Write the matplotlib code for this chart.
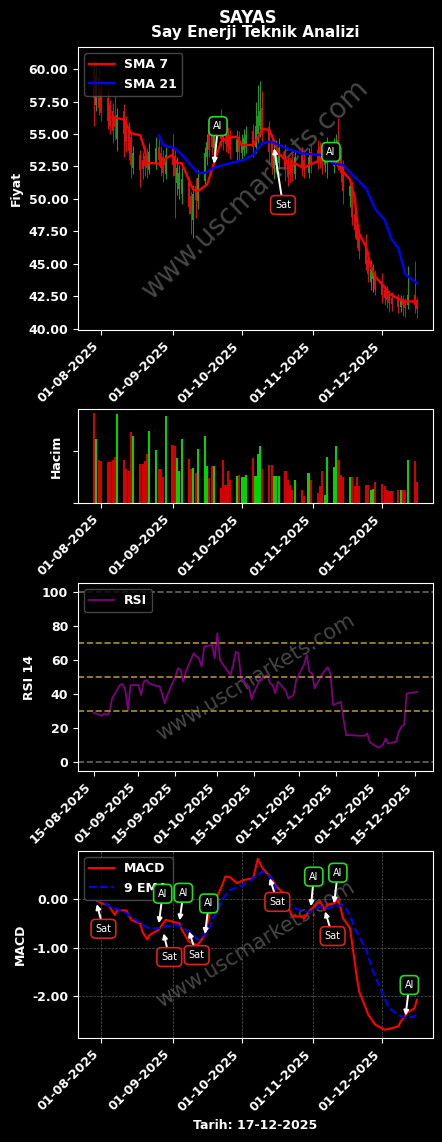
import matplotlib
matplotlib.use("Agg")
import matplotlib.pyplot as plt
import matplotlib.dates as mdates
import matplotlib.ticker as mticker
import pandas as pd

plt.rcParams["font.family"] = ["DejaVu Sans"]
plt.rcParams["font.weight"] = "bold"
plt.rcParams["axes.labelweight"] = "bold"

# islem gunleri (29 Ekim tatil)
days = pd.bdate_range("2025-07-29", "2025-12-16")
days = days[days != pd.Timestamp("2025-10-29")]

opens = [60.0, 57.2, 59.4, 58.5, 57.8, 57.2, 56.8, 56.3, 54.6, 56.8,
         55.8, 55.4, 54.8, 52.4, 53.4, 53.0, 53.3, 53.2, 52.2, 52.7,
         54.0, 53.5, 53.2, 51.9, 54.0, 53.3, 51.2, 50.8, 50.4, 51.3,
         50.2, 48.4, 51.0, 49.8, 51.4, 53.2, 55.3, 55.0, 53.9, 56.0,
         55.6, 55.3, 55.0, 54.8, 53.6, 54.8, 53.5, 53.8, 54.0, 55.2,
         54.0, 55.0, 55.6, 57.0, 55.5, 54.4, 52.4, 52.6, 52.8, 53.6,
         52.8, 52.6, 53.0, 51.9, 53.4, 53.0, 52.0, 53.6, 53.8, 54.0,
         53.8, 52.6, 52.8, 52.5, 53.0, 54.5, 53.4, 52.6, 50.2, 51.0,
         48.8, 48.0, 47.2, 46.5, 45.4, 43.6, 43.8, 44.0, 43.5, 43.0,
         42.8, 42.6, 42.4, 42.3, 41.7, 42.3, 42.2, 41.8, 42.6, 42.2]
closes = [57.8, 59.5, 57.0, 56.6, 56.0, 55.6, 55.2, 55.5, 56.5, 55.0,
          54.4, 53.7, 52.6, 53.5, 52.2, 52.3, 52.5, 52.4, 53.6, 53.9,
          53.0, 52.4, 52.0, 53.4, 52.6, 51.8, 52.4, 52.0, 51.5, 49.4,
          48.8, 50.4, 49.9, 51.6, 53.5, 54.4, 53.8, 54.0, 55.1, 54.6,
          54.4, 54.2, 54.0, 53.8, 54.6, 53.6, 54.3, 54.7, 54.9, 54.0,
          55.6, 56.4, 56.8, 55.0, 53.6, 52.7, 53.5, 53.8, 53.9, 52.2,
          51.7, 51.9, 52.0, 53.2, 52.4, 52.2, 53.2, 52.6, 52.9, 53.0,
          52.7, 53.6, 54.0, 53.8, 54.2, 52.8, 52.0, 50.6, 51.0, 48.6,
          47.6, 46.8, 46.0, 45.0, 44.2, 44.6, 44.4, 43.0, 42.6, 42.4,
          42.2, 42.0, 41.9, 41.7, 42.2, 41.8, 41.6, 42.6, 41.8, 41.5]
highs = [60.7, 60.6, 60.2, 59.0, 58.4, 57.6, 57.4, 57.9, 57.0, 57.3,
         56.4, 55.9, 55.2, 54.1, 53.8, 53.6, 54.0, 53.9, 54.3, 54.8,
         54.6, 54.1, 53.8, 54.0, 55.0, 53.8, 53.2, 52.6, 52.4, 51.7,
         50.6, 51.1, 51.6, 52.2, 54.0, 55.0, 55.9, 55.5, 56.0, 56.9,
         56.3, 55.8, 55.5, 55.3, 55.3, 55.2, 55.0, 55.4, 55.6, 55.8,
         57.5, 58.8, 59.1, 58.3, 56.0, 55.0, 54.2, 54.5, 54.7, 54.2,
         53.3, 53.2, 53.5, 53.8, 54.0, 53.6, 53.9, 54.2, 54.5, 54.4,
         54.2, 54.4, 54.8, 54.7, 55.0, 56.2, 54.0, 53.0, 51.6, 51.4,
         49.5, 48.6, 47.6, 47.3, 46.0, 45.3, 45.0, 44.5, 44.3, 43.4,
         43.3, 43.0, 42.8, 42.7, 42.6, 42.6, 42.4, 44.8, 45.2, 42.4]
lows = [55.6, 56.8, 56.5, 56.0, 55.4, 55.0, 54.3, 54.5, 53.7, 53.2,
        53.6, 53.0, 51.6, 51.9, 50.9, 51.5, 51.8, 51.6, 51.9, 52.3,
        52.5, 51.8, 51.3, 51.5, 51.8, 48.5, 50.3, 50.0, 49.6, 48.8,
        47.3, 47.0, 48.5, 49.2, 51.0, 52.6, 53.2, 53.4, 53.4, 54.0,
        53.8, 53.6, 53.5, 53.1, 53.0, 53.0, 53.0, 53.3, 53.5, 53.2,
        53.5, 54.3, 54.8, 54.2, 52.8, 51.9, 51.5, 52.0, 52.3, 51.4,
        51.0, 51.2, 51.4, 51.5, 51.8, 51.6, 51.6, 52.0, 52.3, 52.4,
        51.9, 52.1, 51.6, 52.0, 52.6, 52.2, 51.3, 49.6, 49.4, 48.0,
        47.0, 46.2, 45.4, 44.5, 43.6, 43.0, 42.8, 42.6, 42.0, 41.8,
        41.6, 41.3, 41.4, 41.2, 41.3, 41.0, 40.9, 41.5, 41.2, 40.8]
# hacim (milyon)
volume = [17.5, 12.3, 8.4, 8.1, 7.9, 7.9, 8.4, 9.0, 17.3, 8.4,
          6.6, 6.1, 13.7, 13.0, 7.6, 7.6, 8.1, 9.4, 13.9, 10.3,
          6.5, 6.6, 5.0, 16.9, 11.3, 11.0, 8.7, 6.1, 12.3, 8.6,
          6.5, 6.8, 5.8, 10.5, 12.9, 7.1, 4.8, 7.2, 7.1, 3.0,
          8.3, 3.5, 6.1, 4.5, 5.3, 5.5, 5.0, 5.0, 5.5, 8.7,
          5.2, 9.4, 11.1, 6.5, 7.4, 7.4, 5.2, 5.2, 5.3, 6.1,
          4.4, 3.4, 2.6, 4.4, 2.6, 1.3, 5.9, 4.5, 2.0, 3.2,
          6.1, 1.6, 9.0, 7.0, 11.0, 8.4, 5.5, 5.0, 5.0, 5.0,
          3.2, 5.0, 3.2, 3.4, 3.4, 2.6, 2.8, 4.0, 3.7, 3.2,
          2.5, 2.3, 2.3, 2.6, 2.6, 2.6, 2.5, 8.3, 8.2, 4.0]

sma7_dates = ["2025-08-06", "2025-08-11", "2025-08-13", "2025-08-14", "2025-08-18",
              "2025-08-20", "2025-08-21", "2025-08-25", "2025-08-28", "2025-08-29",
              "2025-09-01", "2025-09-03", "2025-09-05", "2025-09-08", "2025-09-10",
              "2025-09-12", "2025-09-16", "2025-09-19", "2025-09-22", "2025-09-25",
              "2025-09-29", "2025-10-01", "2025-10-06", "2025-10-08", "2025-10-10",
              "2025-10-13", "2025-10-15", "2025-10-17", "2025-10-20", "2025-10-22",
              "2025-10-24", "2025-10-28", "2025-10-30", "2025-11-03", "2025-11-05",
              "2025-11-07", "2025-11-10", "2025-11-12", "2025-11-17", "2025-11-19",
              "2025-11-20", "2025-11-21", "2025-11-24", "2025-11-26", "2025-11-28",
              "2025-12-02", "2025-12-04", "2025-12-08", "2025-12-11", "2025-12-16"]
sma7 = [56.3, 56.1, 55.4, 55.05, 54.9, 53.8, 52.75, 52.75, 52.6, 53.1,
        53.4, 52.75, 52.75, 51.5, 50.7, 50.6, 51.1, 52.75, 54.4, 54.7,
        54.8, 54.15, 54.15, 54.7, 55.4, 55.3, 54.5, 53.5, 53.0, 52.2,
        52.75, 52.35, 52.6, 52.9, 53.25, 53.0, 52.85, 52.5, 51.5, 50.15,
        48.4, 47.3, 46.3, 44.8, 44.0, 43.2, 42.7, 42.3, 42.1, 42.1]

sma21_dates = ["2025-08-26", "2025-08-28", "2025-09-02", "2025-09-05", "2025-09-12",
               "2025-09-15", "2025-09-19", "2025-09-23", "2025-09-26", "2025-10-02",
               "2025-10-06", "2025-10-10", "2025-10-14", "2025-10-17", "2025-10-22",
               "2025-10-27", "2025-11-03", "2025-11-04", "2025-11-10", "2025-11-14",
               "2025-11-20", "2025-11-24", "2025-11-28", "2025-12-02", "2025-12-05",
               "2025-12-08", "2025-12-11", "2025-12-16"]
sma21 = [54.9, 54.15, 53.9, 53.4, 52.0, 52.0, 52.4, 52.6, 52.75, 53.0,
         53.4, 54.3, 54.4, 54.15, 53.8, 53.5, 53.4, 53.4, 52.7, 52.6,
         51.5, 50.8, 49.2, 48.4, 46.9, 46.2, 44.2, 43.5]

# RSI 14, 15-08 itibariyle her islem gunu
rsi = [29.1, 27.3, 28.7, 27.7, 29.7, 37.5, 45.5, 45.9, 42.4, 30.7, 45.3,
       45.3, 39.5, 47.3, 48.2, 46.3, 44.7, 44.7, 40.0, 34.6, 39.5,
       50.0, 55.1, 54.1, 47.3, 53.1, 63.9, 62.0, 60.9, 56.1, 67.8,
       68.8, 60.9, 75.6, 60.0, 57.5, 51.2, 57.0, 64.8, 63.9, 49.2,
       44.3, 36.9, 41.4, 44.5, 48.2, 51.2, 46.3, 45.3, 40.4, 47.3,
       42.0, 37.5, 39.5, 48.2, 57.5, 62.9, 53.1, 52.1, 43.4,
       52.1, 54.0, 55.7, 52.1, 33.6, 35.5, 25.0, 16.0, 16.0, 16.0,
       15.6, 15.6, 15.6, 17.0, 11.7, 8.8, 9.2, 10.5, 14.1, 11.1,
       12.1, 18.0, 20.9, 22.0, 40.4, 41.0, 41.4]
rsi_days = days[days >= pd.Timestamp("2025-08-15")]

macd_dates = ["2025-07-29", "2025-08-01", "2025-08-04", "2025-08-06", "2025-08-07",
              "2025-08-08", "2025-08-12", "2025-08-14", "2025-08-18", "2025-08-19",
              "2025-08-21", "2025-08-22", "2025-08-25", "2025-08-26", "2025-08-28",
              "2025-08-29", "2025-09-02", "2025-09-04", "2025-09-05", "2025-09-08",
              "2025-09-11", "2025-09-12", "2025-09-15", "2025-09-17", "2025-09-19",
              "2025-09-22", "2025-09-24", "2025-09-26", "2025-09-29", "2025-10-02",
              "2025-10-06", "2025-10-08", "2025-10-10", "2025-10-14", "2025-10-16",
              "2025-10-20", "2025-10-21", "2025-10-23", "2025-10-27", "2025-10-28",
              "2025-10-30", "2025-11-03", "2025-11-04", "2025-11-06", "2025-11-07",
              "2025-11-10", "2025-11-12", "2025-11-14", "2025-11-17", "2025-11-18",
              "2025-11-20", "2025-11-21", "2025-11-25", "2025-11-28", "2025-12-02",
              "2025-12-05", "2025-12-08", "2025-12-09", "2025-12-11", "2025-12-12",
              "2025-12-15", "2025-12-16"]
macd = [0.00, -0.09, -0.12, -0.26, -0.33, -0.23, -0.24, -0.43, -0.51, -0.68,
        -0.83, -0.74, -0.66, -0.63, -0.50, -0.43, -0.48, -0.50, -0.63, -0.87,
        -0.94, -0.94, -0.74, -0.33, -0.09, 0.22, 0.46, 0.44, 0.32, 0.39,
        0.42, 0.82, 0.63, 0.42, 0.25, 0.08, -0.16, -0.36, -0.36, -0.41,
        -0.26, -0.09, -0.05, -0.23, -0.12, -0.09, -0.02, -0.40, -0.60, -0.94,
        -1.62, -1.90, -2.38, -2.58, -2.68, -2.65, -2.61, -2.51, -2.39, -2.32,
        -2.24, -2.07]

signal_dates = ["2025-07-29", "2025-08-01", "2025-08-05", "2025-08-11", "2025-08-14",
                "2025-08-18", "2025-08-22", "2025-08-26", "2025-08-29", "2025-09-02",
                "2025-09-05", "2025-09-10", "2025-09-12", "2025-09-16", "2025-09-19",
                "2025-09-23", "2025-09-26", "2025-10-02", "2025-10-06", "2025-10-10",
                "2025-10-14", "2025-10-16", "2025-10-21", "2025-10-24", "2025-10-28",
                "2025-10-31", "2025-11-04", "2025-11-07", "2025-11-11", "2025-11-14",
                "2025-11-17", "2025-11-19", "2025-11-24", "2025-11-27", "2025-12-01",
                "2025-12-04", "2025-12-08", "2025-12-11", "2025-12-15", "2025-12-16"]
signal = [0.00, -0.05, -0.16, -0.26, -0.36, -0.50, -0.61, -0.60, -0.57, -0.53,
          -0.57, -0.74, -0.84, -0.70, -0.36, 0.01, 0.18, 0.29, 0.42, 0.56,
          0.42, 0.18, -0.09, -0.19, -0.26, -0.26, -0.16, -0.19, -0.16, -0.12,
          -0.33, -0.60, -1.04, -1.49, -1.93, -2.24, -2.38, -2.44, -2.41, -2.34]

# sinyaller: (etiket, tarih, deger)
price_signals = [("Al", "2025-09-19", 52.6), ("Sat", "2025-10-15", 54.0), ("Al", "2025-11-07", 53.0)]
price_offsets = [(4, 39), (9, -58), (4, 8)]
macd_signals = [("Sat", "2025-07-30", -0.08), ("Al", "2025-08-26", -0.53), ("Sat", "2025-08-28", -0.68),
                ("Al", "2025-09-04", -0.47), ("Sat", "2025-09-08", -0.64), ("Al", "2025-09-15", -0.75),
                ("Sat", "2025-10-13", 0.45), ("Al", "2025-10-31", -0.18), ("Sat", "2025-11-06", -0.23),
                ("Al", "2025-11-10", -0.12), ("Al", "2025-12-11", -2.42)]
macd_offsets = [(7, -26), (4, 31), (6, -25), (4, 29), (8, -25), (4, 32),
                (8, -25), (3, 31), (8, -26), (4, 32), (4, 32)]

fig = plt.figure(figsize=(4.42, 11.42), dpi=100, facecolor="black")
W, H = 442.0, 1142.0
def box(top, bottom):
    return [78 / W, 1 - bottom / H, 355 / W, (bottom - top) / H]

ax1 = fig.add_axes(box(47, 330))
ax2 = fig.add_axes(box(409, 503))
ax3 = fig.add_axes(box(583, 771))
ax4 = fig.add_axes(box(851, 1038))

for ax in (ax1, ax2, ax3, ax4):
    ax.set_facecolor("black")
    for s in ax.spines.values():
        s.set_color("white")
    ax.tick_params(colors="white", labelsize=9)
    ax.yaxis.label.set_color("white")
    ax.xaxis.label.set_color("white")

def watermark(ax, size, rot):
    ax.text(0.5, 0.5, "www.uscmarkets.com", transform=ax.transAxes, ha="center", va="center",
            fontsize=size, rotation=rot, color="gray", alpha=0.55, fontweight="normal", zorder=0)

def signal_box(ax, lab, d, v, off):
    ec = "#22dd22" if lab == "Al" else "#dd2020"
    ax.annotate(lab, xy=(pd.Timestamp(d), v), xytext=off, textcoords="offset pixels",
                ha="center", va="center", color="white", fontsize=7, fontweight="normal",
                bbox=dict(boxstyle="round,pad=0.45", fc="black", ec=ec, lw=1.2),
                arrowprops=dict(arrowstyle="-|>", color="white", lw=1.4, mutation_scale=7,
                                shrinkA=0, shrinkB=1), zorder=10)

# fiyat
up = [c >= o for o, c in zip(opens, closes)]
ccol = ["#1f9e1f" if u else "#e01010" for u in up]
ax1.vlines(days, lows, highs, colors=ccol, lw=0.7)
ax1.vlines(days, opens, closes, colors=ccol, lw=1.4)
ax1.plot(pd.to_datetime(sma7_dates), sma7, color="red", lw=1.7, label="SMA 7")
ax1.plot(pd.to_datetime(sma21_dates), sma21, color="blue", lw=1.7, label="SMA 21")
ax1.set_ylim(39.9, 61.7)
ax1.yaxis.set_major_locator(mticker.MultipleLocator(2.5))
ax1.yaxis.set_major_formatter(mticker.FormatStrFormatter("%.2f"))
ax1.set_ylabel("Fiyat", fontsize=9)
ax1.legend(loc="upper left", fontsize=9, facecolor="black", edgecolor="#555555", labelcolor="white")
watermark(ax1, 20, 44)
for (lab, d, v), off in zip(price_signals, price_offsets):
    signal_box(ax1, lab, d, v, off)

# hacim
vcol = ["#00ee00" if u else "#ee0000" for u in up]
ax2.bar(days, volume, width=0.9, color=vcol, alpha=0.9)
ax2.set_ylim(0, 18.2)
ax2.set_yticks([0, 10])
ax2.set_yticklabels([])
ax2.set_ylabel("Hacim", fontsize=9)

xl = (pd.Timestamp("2025-07-22"), pd.Timestamp("2025-12-23"))
for ax in (ax1, ax2, ax4):
    ax.set_xlim(xl)
    ax.xaxis.set_major_locator(mdates.MonthLocator())
    ax.xaxis.set_major_formatter(mdates.DateFormatter("%d-%m-%Y"))

# RSI
ax3.plot(rsi_days, rsi, color="purple", lw=1.3, label="RSI")
ax3.axhline(100, color="#666666", ls="--", lw=1.2)
ax3.axhline(0, color="#666666", ls="--", lw=1.2)
for lvl in (30, 50, 70):
    ax3.axhline(lvl, color="#b08c3c", ls="--", lw=1.2)
ax3.set_ylim(-5, 105)
ax3.set_xlim(pd.Timestamp("2025-08-09"), pd.Timestamp("2025-12-22"))
ax3.xaxis.set_major_locator(mdates.DayLocator(bymonthday=[1, 15]))
ax3.xaxis.set_major_formatter(mdates.DateFormatter("%d-%m-%Y"))
ax3.set_ylabel("RSI 14", fontsize=9)
ax3.legend(loc="upper left", fontsize=9, facecolor="black", edgecolor="#555555", labelcolor="white")
watermark(ax3, 15, 31)

# MACD
ax4.plot(pd.to_datetime(macd_dates), macd, color="red", lw=1.5, label="MACD")
ax4.plot(pd.to_datetime(signal_dates), signal, color="blue", lw=1.5, ls="--", label="9 EMA")
ax4.set_ylim(-2.85, 0.98)
ax4.set_yticks([-2, -1, 0])
ax4.yaxis.set_major_formatter(mticker.FormatStrFormatter("%.2f"))
ax4.grid(True, color="gray", ls="--", lw=0.5, alpha=0.7)
ax4.set_ylabel("MACD", fontsize=9)
ax4.set_xlabel("Tarih: 17-12-2025", fontsize=9)
ax4.legend(loc="upper left", fontsize=9, facecolor="black", edgecolor="#555555", labelcolor="white")
watermark(ax4, 15, 31)
for (lab, d, v), off in zip(macd_signals, macd_offsets):
    signal_box(ax4, lab, d, v, off)

for ax in (ax1, ax2, ax3, ax4):
    for t in ax.get_xticklabels():
        t.set_rotation(45)
        t.set_ha("right")

fig.text(248 / W, 1 - 22.7 / H, "SAYAS", ha="center", va="baseline", fontsize=12,
         fontweight="bold", color="white")
fig.text(255 / W, 1 - 37.3 / H, "Say Enerji Teknik Analizi", ha="center", va="baseline",
         fontsize=11, fontweight="bold", color="white")

fig.savefig("out.png", dpi=100, facecolor="black")
